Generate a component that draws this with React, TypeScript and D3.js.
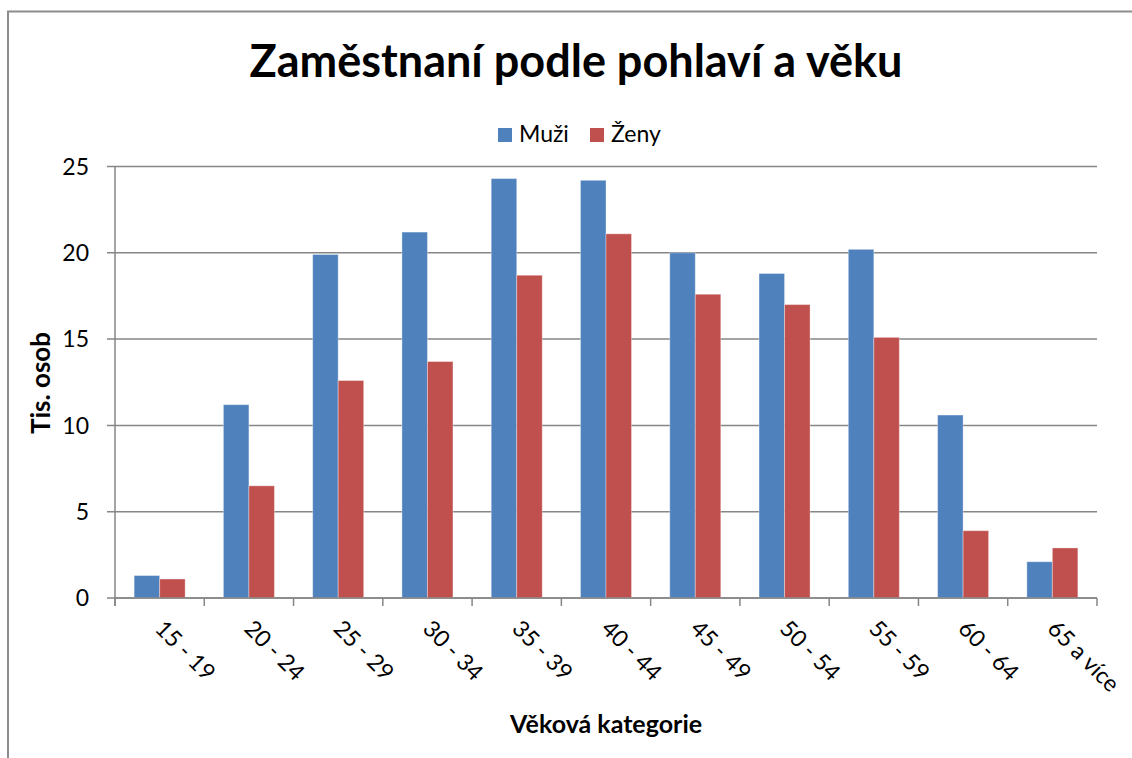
import React from "react";
import * as d3 from "d3";

const categories = ["15 - 19", "20 - 24", "25 - 29", "30 - 34", "35 - 39", "40 - 44", "45 - 49", "50 - 54", "55 - 59", "60 - 64", "65 a více"];
const muzi = [1.3, 11.2, 19.9, 21.2, 24.3, 24.2, 20.0, 18.8, 20.2, 10.6, 2.1];
const zeny = [1.1, 6.5, 12.6, 13.7, 18.7, 21.1, 17.6, 17.0, 15.1, 3.9, 2.9];
const yTicks = [0, 5, 10, 15, 20, 25];
const seriesNames = ["Muži", "Ženy"];
const colors = ["#4F81BD", "#C0504D"];

const W = 1132;
const H = 758;
const left = 115;
const right = 1097;
const top = 166.5;
const bottom = 598;
const FONT = "Lato, 'Open Sans', sans-serif";

export default function App() {
  const x = d3.scaleBand<string>().domain(categories).range([left, right]).paddingInner(0).paddingOuter(0);
  const y = d3.scaleLinear().domain([0, 25]).range([bottom, top]);
  const bw = x.bandwidth();
  const barW = bw / 3.5;
  const inner = d3.scaleBand<string>().domain(seriesNames).range([0.75 * barW, 0.75 * barW + 2 * barW]);
  const series = [muzi, zeny];
  const grid = "#868686";

  return (
    <svg width={W} height={H} style={{ position: "absolute", left: 0, top: 0, background: "#fff" }} fontFamily={FONT}>
      {/* chart border */}
      <path d={`M8,${H} L8,11.5 L${W},11.5`} fill="none" stroke="#8c8c8c" strokeWidth={2} />
      {/* title */}
      <text x={576} y={77} textAnchor="middle" fontSize={45} fontWeight={700} fill="#000">
        Zaměstnaní podle pohlaví a věku
      </text>
      {/* legend */}
      {seriesNames.map((s, i) => {
        const lx = i === 0 ? 498 : 590;
        return (
          <g key={s}>
            <rect x={lx} y={128} width={14} height={14} fill={colors[i]} />
            <text x={lx + 21} y={142} fontSize={23} fill="#000">{s}</text>
          </g>
        );
      })}
      {/* gridlines + y ticks */}
      {yTicks.map((t) => (
        <g key={t}>
          <line x1={left - 8} x2={right} y1={y(t)} y2={y(t)} stroke={grid} strokeWidth={1.5} />
          <text x={89} y={y(t)} dy="0.36em" textAnchor="end" fontSize={23} fill="#000">{t}</text>
        </g>
      ))}
      {/* y axis line */}
      <line x1={left} x2={left} y1={top} y2={bottom + 8} stroke={grid} strokeWidth={1.5} />
      {/* bars */}
      {categories.map((c, ci) => (
        <g key={c}>
          {series.map((vals, si) => (
            <rect
              key={si}
              x={(x(c) as number) + (inner(seriesNames[si]) as number)}
              y={y(vals[ci])}
              width={barW}
              height={y(0) - y(vals[ci])}
              fill={colors[si]}
              stroke="rgba(255,255,255,0.35)"
              strokeWidth={1}
            />
          ))}
        </g>
      ))}
      {/* x axis */}
      <line x1={left} x2={right} y1={bottom} y2={bottom} stroke={grid} strokeWidth={1.5} />
      {categories.map((c, i) => (
        <line key={"t" + i} x1={x(c) as number} x2={x(c) as number} y1={bottom} y2={bottom + 8} stroke={grid} strokeWidth={1.5} />
      ))}
      <line x1={right} x2={right} y1={bottom} y2={bottom + 8} stroke={grid} strokeWidth={1.5} />
      {categories.map((c) => {
        const cx = (x(c) as number) + bw / 2 - 6;
        const cy = 630;
        return (
          <text key={"l" + c} x={cx} y={cy} transform={`rotate(45 ${cx} ${cy})`} fontSize={23} fill="#000">
            {c}
          </text>
        );
      })}
      {/* axis titles */}
      <text x={606} y={733} textAnchor="middle" fontSize={25} fontWeight={700} fill="#000">Věková kategorie</text>
      <text transform={`translate(50 383) rotate(-90)`} textAnchor="middle" fontSize={26} fontWeight={700} fill="#000">Tis. osob</text>
    </svg>
  );
}
